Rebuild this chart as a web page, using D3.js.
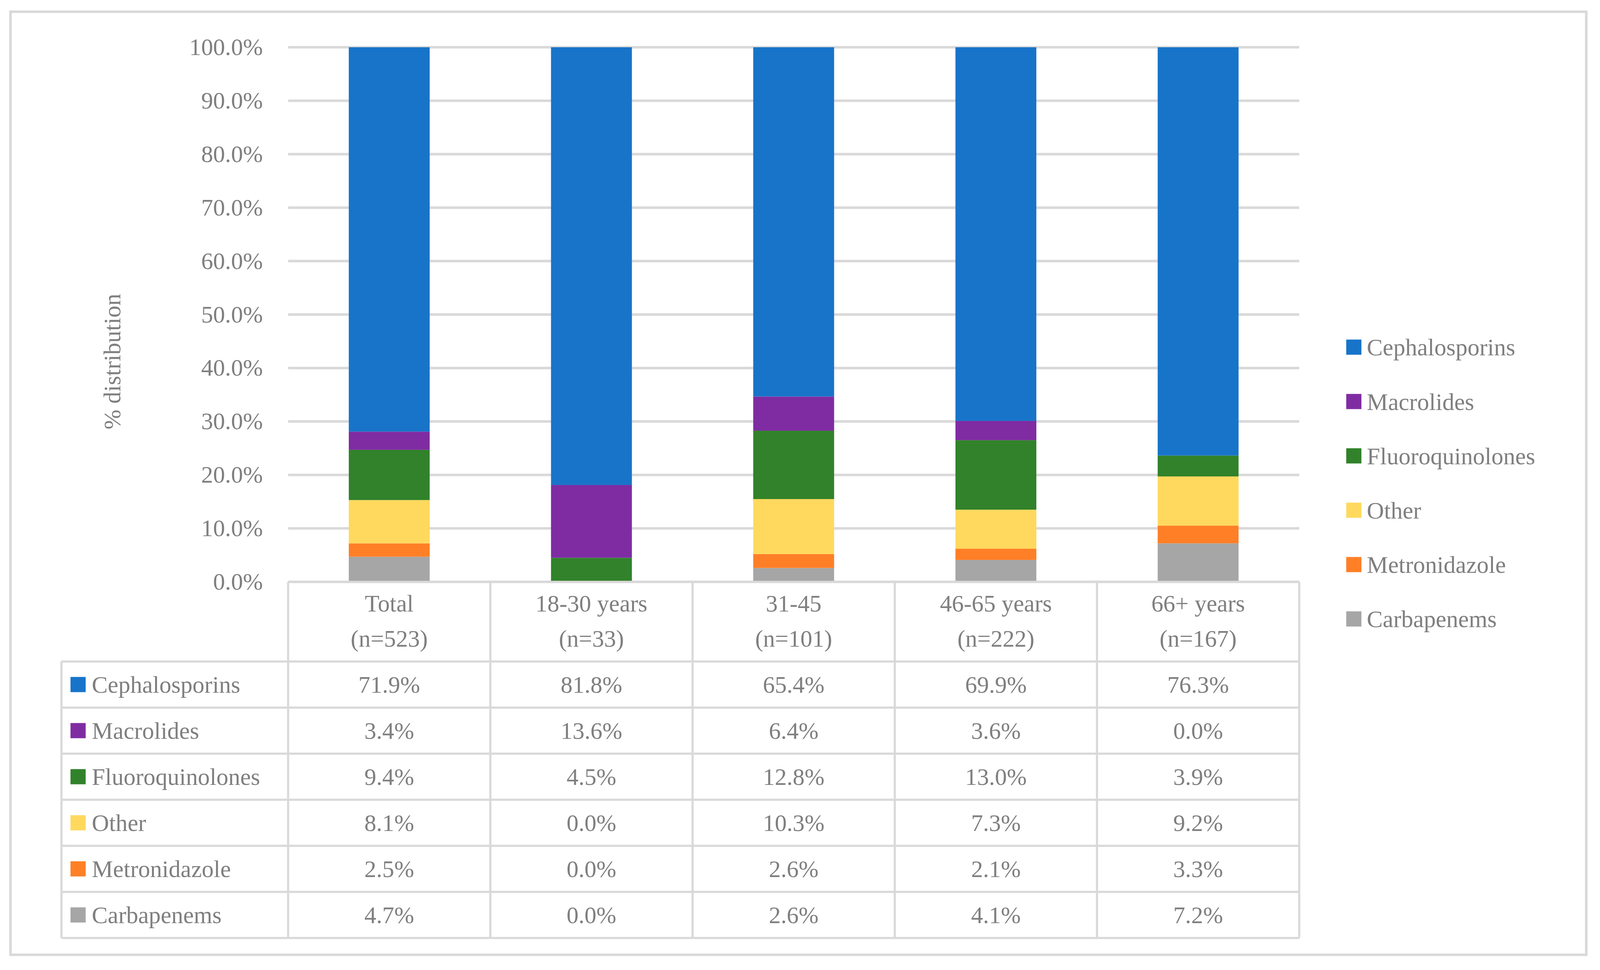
<!DOCTYPE html>
<html>
<head>
<meta charset="utf-8">
<script src="https://cdn.jsdelivr.net/npm/d3@7"></script>
<style>
  html, body { margin: 0; padding: 0; background: #fff; overflow: hidden; }
  #chart svg { display: block; }
  text { font-family: "Liberation Serif", "DejaVu Serif", serif; fill: #7f7f7f; }
</style>
</head>
<body>
<div id="chart"></div>
<script>
const groups = ['Total', '18-30 years', '31-45', '46-65 years', '66+ years'];
const groupN = ['(n=523)', '(n=33)', '(n=101)', '(n=222)', '(n=167)'];
const series = ['Cephalosporins', 'Macrolides', 'Fluoroquinolones', 'Other', 'Metronidazole', 'Carbapenems'];
const colors = ['#1874c9', '#7f2ca3', '#31822a', '#ffd95e', '#ff7f27', '#a6a6a6'];

const cephalosporins = [71.9, 81.8, 65.4, 69.9, 76.3];
const macrolides = [3.4, 13.6, 6.4, 3.6, 0.0];
const fluoroquinolones = [9.4, 4.5, 12.8, 13.0, 3.9];
const other = [8.1, 0.0, 10.3, 7.3, 9.2];
const metronidazole = [2.5, 0.0, 2.6, 2.1, 3.3];
const carbapenems = [4.7, 0.0, 2.6, 4.1, 7.2];

const yTicks = [0, 0.1, 0.2, 0.3, 0.4, 0.5, 0.6, 0.7, 0.8, 0.9, 1.0];

const values = [cephalosporins, macrolides, fluoroquinolones, other, metronidazole, carbapenems];

const rows = groups.map((g, i) => {
  const r = { group: g };
  series.forEach((s, j) => { r[s] = values[j][i]; });
  return r;
});

// layout is designed on a 4426 x 2484 canvas and fitted to the window
const width = window.innerWidth || 4426;
const height = window.innerHeight || 2484;
const sx = width / 4426;
const sy = height / 2484;
const X = (v) => v * sx;
const Y = (v) => v * sy;
const fontSize = 66 * Math.min(sx, sy);
const lineW = 7 * Math.min(sx, sy);

const plot = { left: X(797), right: X(3594), top: Y(121), bottom: Y(1490) };
const table = { left: X(170), headerBottom: Y(1694), rowH: Y(118) };

const svg = d3.select('#chart')
  .append('svg')
  .attr('width', width)
  .attr('height', height);

svg.append('rect').attr('width', width).attr('height', height).attr('fill', '#fff');

// outer frame
svg.append('rect')
  .attr('x', X(29)).attr('y', Y(30))
  .attr('width', X(4388 - 29)).attr('height', Y(2445 - 30))
  .attr('fill', 'none')
  .attr('stroke', '#d9d9d9')
  .attr('stroke-width', lineW);

const xScale = d3.scaleBand()
  .domain(groups)
  .range([plot.left, plot.right])
  .paddingInner(0.6)
  .paddingOuter(0.3);

const cellScale = d3.scaleBand()
  .domain(groups)
  .range([plot.left, plot.right]);

const yScale = d3.scaleLinear()
  .domain([0, 1])
  .range([plot.bottom, plot.top]);

// gridlines
svg.append('g')
  .selectAll('line')
  .data(yTicks)
  .join('line')
  .attr('x1', plot.left)
  .attr('x2', plot.right)
  .attr('y1', (d) => yScale(d))
  .attr('y2', (d) => yScale(d))
  .attr('stroke', '#d9d9d9')
  .attr('stroke-width', lineW);

// y axis labels
const yAxis = svg.append('g')
  .attr('transform', `translate(${X(727)}, 0)`)
  .call(d3.axisLeft(yScale).tickValues(yTicks).tickSize(0).tickPadding(0)
    .tickFormat((d) => (d * 100).toFixed(1) + '%'));
yAxis.select('.domain').remove();
yAxis.selectAll('text')
  .attr('font-size', fontSize)
  .attr('font-family', null)
  .attr('fill', '#7f7f7f');

// y title
svg.append('text')
  .attr('transform', `translate(${X(333)}, ${Y(926)}) rotate(-90)`)
  .attr('text-anchor', 'middle')
  .attr('font-size', fontSize)
  .text('% distribution');

// stacked bars, bottom to top
const stackKeys = series.slice().reverse();
const stacked = d3.stack()
  .keys(stackKeys)
  .offset(d3.stackOffsetExpand)(rows);

const colorScale = d3.scaleOrdinal().domain(series).range(colors);

svg.append('g')
  .selectAll('g')
  .data(stacked)
  .join('g')
  .attr('fill', (d) => colorScale(d.key))
  .selectAll('rect')
  .data((d) => d)
  .join('rect')
  .attr('x', (d) => xScale(d.data.group))
  .attr('width', xScale.bandwidth())
  .attr('y', (d) => yScale(d[1]))
  .attr('height', (d) => yScale(d[0]) - yScale(d[1]));

// data table
const tableBottom = table.headerBottom + table.rowH * series.length;
const grid = svg.append('g')
  .attr('stroke', '#d9d9d9')
  .attr('stroke-width', lineW * 0.85);

grid.append('line')
  .attr('x1', plot.left).attr('x2', plot.right)
  .attr('y1', plot.bottom).attr('y2', plot.bottom);
grid.selectAll('.hrow')
  .data(d3.range(series.length + 1))
  .join('line')
  .attr('class', 'hrow')
  .attr('x1', table.left).attr('x2', plot.right)
  .attr('y1', (i) => table.headerBottom + i * table.rowH)
  .attr('y2', (i) => table.headerBottom + i * table.rowH);

grid.selectAll('.vcol')
  .data(groups.map((g) => cellScale(g)).concat([plot.right]))
  .join('line')
  .attr('class', 'vcol')
  .attr('x1', (d) => d).attr('x2', (d) => d)
  .attr('y1', plot.bottom).attr('y2', tableBottom);
grid.append('line')
  .attr('x1', table.left).attr('x2', table.left)
  .attr('y1', table.headerBottom).attr('y2', tableBottom);

// header row
const header = svg.append('g')
  .selectAll('text')
  .data(groups)
  .join('text')
  .attr('text-anchor', 'middle')
  .attr('font-size', fontSize);
header.append('tspan')
  .attr('x', (d) => cellScale(d) + cellScale.bandwidth() / 2)
  .attr('y', Y(1566))
  .text((d) => d);
header.append('tspan')
  .attr('x', (d) => cellScale(d) + cellScale.bandwidth() / 2)
  .attr('y', Y(1656))
  .text((d, i) => groupN[i]);

// body rows
const keySize = 42 * Math.min(sx, sy);
const rowG = svg.append('g')
  .selectAll('g')
  .data(series)
  .join('g')
  .attr('transform', (d, i) => `translate(0, ${table.headerBottom + i * table.rowH + table.rowH / 2})`);

rowG.append('rect')
  .attr('x', X(195)).attr('y', -keySize / 2)
  .attr('width', keySize).attr('height', keySize)
  .attr('fill', (d) => colorScale(d));

rowG.append('text')
  .attr('x', X(254))
  .attr('y', 0)
  .attr('dy', '0.35em')
  .attr('font-size', fontSize)
  .text((d) => d);

rowG.selectAll('.val')
  .data((s, j) => values[j].map((v, i) => ({ v, g: groups[i] })))
  .join('text')
  .attr('class', 'val')
  .attr('text-anchor', 'middle')
  .attr('x', (d) => cellScale(d.g) + cellScale.bandwidth() / 2)
  .attr('y', 0)
  .attr('dy', '0.35em')
  .attr('font-size', fontSize)
  .text((d) => d.v.toFixed(1) + '%');

// legend
const legend = svg.append('g')
  .selectAll('g')
  .data(series)
  .join('g')
  .attr('transform', (d, i) => `translate(${X(3724)}, ${Y(889 + i * 139.2)})`);

legend.append('rect')
  .attr('x', 0).attr('y', -keySize / 2)
  .attr('width', keySize).attr('height', keySize)
  .attr('fill', (d) => colorScale(d));

legend.append('text')
  .attr('x', X(57))
  .attr('y', 0)
  .attr('dy', '0.35em')
  .attr('font-size', fontSize)
  .text((d) => d);
</script>
</body>
</html>
